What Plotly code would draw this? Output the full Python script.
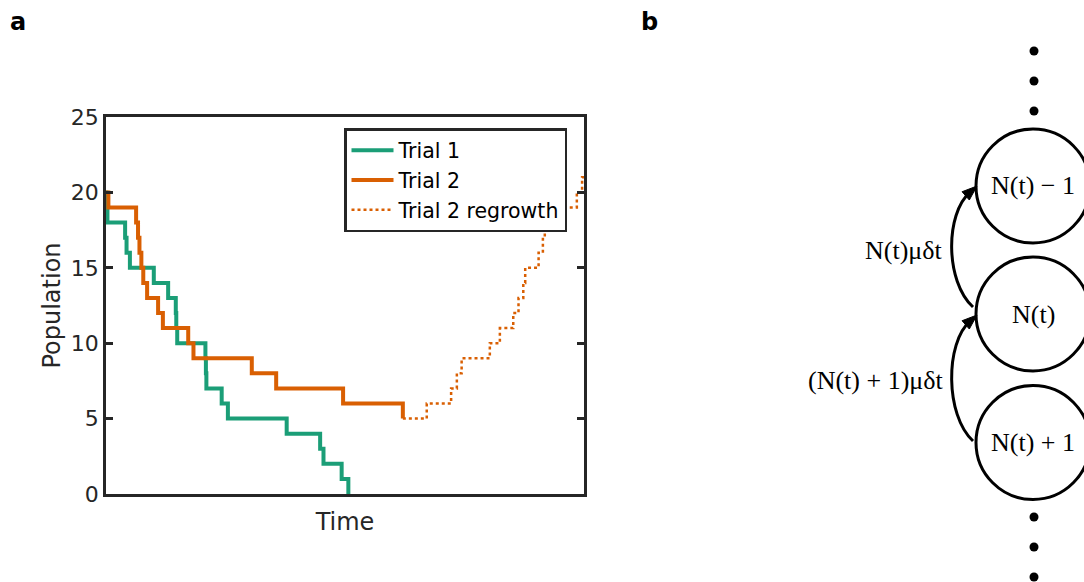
import plotly.graph_objects as go

W, H = 1084, 582

# ---------------- data (panel a) ----------------
trial1_time = [0, 0.1, 0.3, 4.0, 4.3, 5.0, 10.0, 13.0, 14.6, 14.7, 14.9, 20.8, 20.9, 21.0,
               24.2, 25.5, 37.8, 44.8, 45.5, 49.3, 50.7]
trial1_pop = [20, 19, 18, 17, 16, 15, 14, 13, 12, 11, 10, 9, 8, 7, 6, 5, 4, 3, 2, 1, 0]

trial2_time = [0, 0.5, 6.3, 6.7, 7.0, 7.4, 7.8, 8.6, 10.9, 11.9, 17.2, 18.3, 30.5, 35.6, 49.6, 62.1]
trial2_pop = [20, 19, 18, 17, 16, 15, 14, 13, 12, 11, 10, 9, 8, 7, 6, 5]

regrow_time = [62.1, 67.1, 72.2, 73.4, 74.4, 80.3, 82.4, 85.2, 86.3, 87.3, 87.7, 90.5, 91.4,
               91.8, 95.3, 98.5, 99.6, 100]
regrow_pop = [5, 6, 7, 8, 9, 10, 11, 12, 13, 14, 15, 16, 17, 18, 19, 20, 21, 21]

y_ticks = [0, 5, 10, 15, 20, 25]

# ---------------- data (panel b) ----------------
state_labels = ["N(t) \u2212 1", "N(t)", "N(t) + 1"]
rate_labels = ["N(t)\u03bc\u03b4t", "(N(t) + 1)\u03bc\u03b4t"]

GREEN = "#1b9e77"
ORANGE = "#d95f02"
AX = "#262626"

fig = go.Figure()
fig.add_trace(go.Scatter(x=trial1_time, y=trial1_pop, mode="lines", line_shape="hv",
                         line=dict(color=GREEN, width=4), name="Trial 1"))
fig.add_trace(go.Scatter(x=trial2_time, y=trial2_pop, mode="lines", line_shape="hv",
                         line=dict(color=ORANGE, width=4), name="Trial 2"))
fig.add_trace(go.Scatter(x=regrow_time, y=regrow_pop, mode="lines", line_shape="hv",
                         line=dict(color=ORANGE, width=2.5, dash="dot"), name="Trial 2 regrowth"))


def px(x):
    return x / W


def py(y):
    return 1 - y / H


shapes = []
annotations = []

# panel letters
for lx, lt in [(18, "a"), (649, "b")]:
    annotations.append(dict(x=px(lx), y=py(22), xref="paper", yref="paper", text="<b>%s</b>" % lt,
                            showarrow=False, xanchor="center", yanchor="middle",
                            font=dict(family="DejaVu Sans", size=24, color="black")))

# panel b: states
cx, r = 1033, 57
centers = [186, 314, 442.5]
for c, lab in zip(centers, state_labels):
    shapes.append(dict(type="circle", xref="paper", yref="paper",
                       x0=px(cx - r), x1=px(cx + r), y0=py(c + r), y1=py(c - r),
                       line=dict(color="black", width=3), fillcolor="rgba(0,0,0,0)"))
    annotations.append(dict(x=px(cx), y=py(c), xref="paper", yref="paper", text=lab,
                            showarrow=False, xanchor="center", yanchor="middle",
                            font=dict(family="Liberation Serif", size=26, color="black")))

# dots
for dy in [51, 81, 111, 517, 547, 577]:
    rd = 4.5
    shapes.append(dict(type="circle", xref="paper", yref="paper",
                       x0=px(1034 - rd), x1=px(1034 + rd), y0=py(dy + rd), y1=py(dy - rd),
                       line=dict(width=0), fillcolor="black"))

# curved arrows
arrows = [(307, 186, 250), (441, 315, 380)]
for (ys, yt, ylab), lab in zip(arrows, rate_labels):
    sx, sy = 973, ys
    tx, ty = 977, yt
    c1 = (945, ys - 26)
    c2 = (945, yt + 28)
    dx, dyy = tx - c2[0], ty - c2[1]
    n = (dx ** 2 + dyy ** 2) ** 0.5
    ux, uy = dx / n, dyy / n
    ex, ey = tx - 9 * ux, ty - 9 * uy
    path = "M{},{} C{},{} {},{} {},{}".format(px(sx), py(sy), px(c1[0]), py(c1[1]),
                                              px(c2[0]), py(c2[1]), px(ex), py(ey))
    shapes.append(dict(type="path", xref="paper", yref="paper", path=path,
                       line=dict(color="black", width=3)))
    bx, by = tx - 15 * ux, ty - 15 * uy
    nx, ny = -uy, ux
    hw = 5.5
    tri = "M{},{} L{},{} L{},{} Z".format(px(tx), py(ty), px(bx + hw * nx), py(by + hw * ny),
                                          px(bx - hw * nx), py(by - hw * ny))
    shapes.append(dict(type="path", xref="paper", yref="paper", path=tri,
                       line=dict(color="black", width=1), fillcolor="black"))
    annotations.append(dict(x=px(945), y=py(ylab), xref="paper", yref="paper", text=lab,
                            showarrow=False, xanchor="right", yanchor="middle",
                            font=dict(family="Liberation Serif", size=26, color="black")))

fig.update_layout(
    template="none",
    width=W, height=H, autosize=False,
    margin=dict(l=0, r=0, t=0, b=0, pad=0, autoexpand=False),
    paper_bgcolor="white", plot_bgcolor="rgba(0,0,0,0)",
    font=dict(family="DejaVu Sans", color=AX),
    shapes=shapes, annotations=annotations,
    showlegend=True,
    legend=dict(x=px(344), y=py(128), xanchor="left", yanchor="top",
                bordercolor=AX, borderwidth=2.5, bgcolor="white",
                font=dict(family="DejaVu Sans", size=20.5, color="black"),
                itemwidth=42, tracegroupgap=0),
    xaxis=dict(domain=[px(106), px(584)], range=[0, 100], showgrid=False, zeroline=False,
               automargin=False,
               showline=True, mirror=True, linecolor=AX, linewidth=2.5,
               ticks="", showticklabels=False,
               title=dict(text="Time", font=dict(family="DejaVu Sans", size=24, color=AX),
                          standoff=18)),
    yaxis=dict(domain=[py(494), py(117)], range=[0, 25], showgrid=False, zeroline=False,
               automargin=False,
               showline=True, mirror="ticks", linecolor=AX, linewidth=2.5,
               ticks="inside", ticklen=7, tickwidth=2.5, tickcolor=AX,
               tickvals=y_ticks, tickfont=dict(family="DejaVu Sans", size=22, color=AX),
               title=dict(text="Population", font=dict(family="DejaVu Sans", size=24, color=AX),
                          standoff=4)),
)

fig.write_html("out.html")
